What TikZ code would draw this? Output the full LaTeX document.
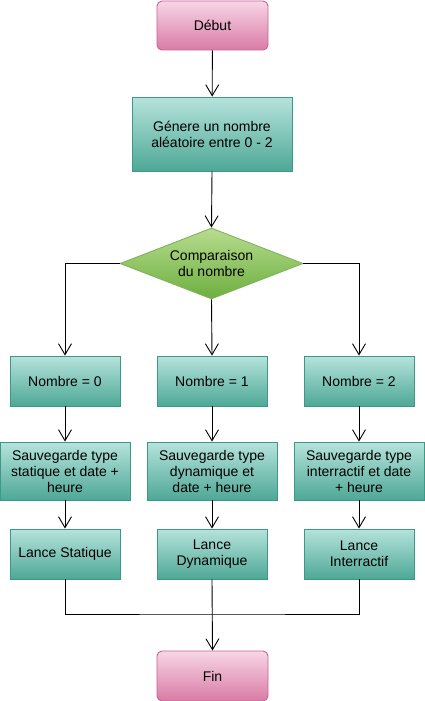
\documentclass[tikz,border=0pt]{standalone}
\usepackage{fontspec}
\setmainfont{Liberation Sans}
\usetikzlibrary{shapes.geometric,arrows.meta}
\definecolor{tealtop}{HTML}{B6E3DC}
\definecolor{tealbot}{HTML}{4EA896}
\definecolor{tealdraw}{HTML}{3C9985}
\definecolor{pinktop}{HTML}{F7D6E6}
\definecolor{pinkbot}{HTML}{D97BA6}
\definecolor{pinkdraw}{HTML}{C9609A}
\definecolor{greentop}{HTML}{B7DC8E}
\definecolor{greenbot}{HTML}{6DAF40}
\definecolor{greendraw}{HTML}{7FB35C}
\tikzset{
  every node/.style={font=\fontsize{14}{16}\selectfont, align=center, inner sep=0pt},
  procbox/.style={rectangle, draw=tealdraw, line width=0.9pt, top color=tealtop, bottom color=tealbot, minimum width=110pt, minimum height=50pt},
  widebox/.style={procbox, minimum width=130pt, minimum height=58pt},
  termbox/.style={rectangle, rounded corners=5pt, draw=pinkdraw, line width=0.9pt, top color=pinktop, bottom color=pinkbot, minimum width=111pt, minimum height=49pt},
  decbox/.style={diamond, aspect=2.58, draw=greendraw, line width=0.9pt, top color=greentop, bottom color=greenbot, minimum width=183pt, minimum height=71pt},
  conn/.style={draw=black, line width=0.9pt},
  arr/.style={conn, -{Straight Barb[length=11pt, width=13pt, line width=0.9pt]}}
}
\begin{document}
\begin{tikzpicture}[x=1pt, y=-1pt]
\useasboundingbox (0,0) rectangle (425,701);
\node[termbox] (debut) at (212.5,25.5) {Début};
\node[procbox, minimum width=160pt, minimum height=74pt] (gen) at (212,134) {Génere un nombre\\aléatoire entre 0 - 2};
\node[decbox] (cmp) at (211.5,263.5) {Comparaison\\du nombre};
\node[procbox] (n0) at (65,381) {Nombre = 0};
\node[procbox] (n1) at (212,381) {Nombre = 1};
\node[procbox] (n2) at (359,381) {Nombre = 2};
\node[widebox] (s0) at (65,471) {Sauvegarde type\\statique et date +\\heure};
\node[widebox] (s1) at (212,471) {Sauvegarde type\\dynamique et\\date + heure};
\node[widebox] (s2) at (359,471) {Sauvegarde type\\interractif et date\\+ heure};
\node[procbox] (l0) at (65,554) {Lance Statique};
\node[procbox] (l1) at (212,554) {Lance\\Dynamique};
\node[procbox] (l2) at (359,554) {Lance\\Interractif};
\node[termbox, minimum height=50pt] (fin) at (212.5,676) {Fin};
\coordinate (join) at (212,614);
\draw[arr] (debut) -- (gen);
\draw[arr] (gen.south) -- (cmp.north);
\draw[arr] (cmp.west) -| (n0.north);
\draw[arr] (cmp.south) -- (n1.north);
\draw[arr] (cmp.east) -| (n2.north);
\draw[arr] (n0) -- (s0);
\draw[arr] (n1) -- (s1);
\draw[arr] (n2) -- (s2);
\draw[arr] (s0) -- (l0);
\draw[arr] (s1) -- (l1);
\draw[arr] (s2) -- (l2);
\draw[conn] (l0.south) |- (join) -| (l2.south);
\draw[arr] (l1.south) -- (fin.north);
\end{tikzpicture}
\end{document}
